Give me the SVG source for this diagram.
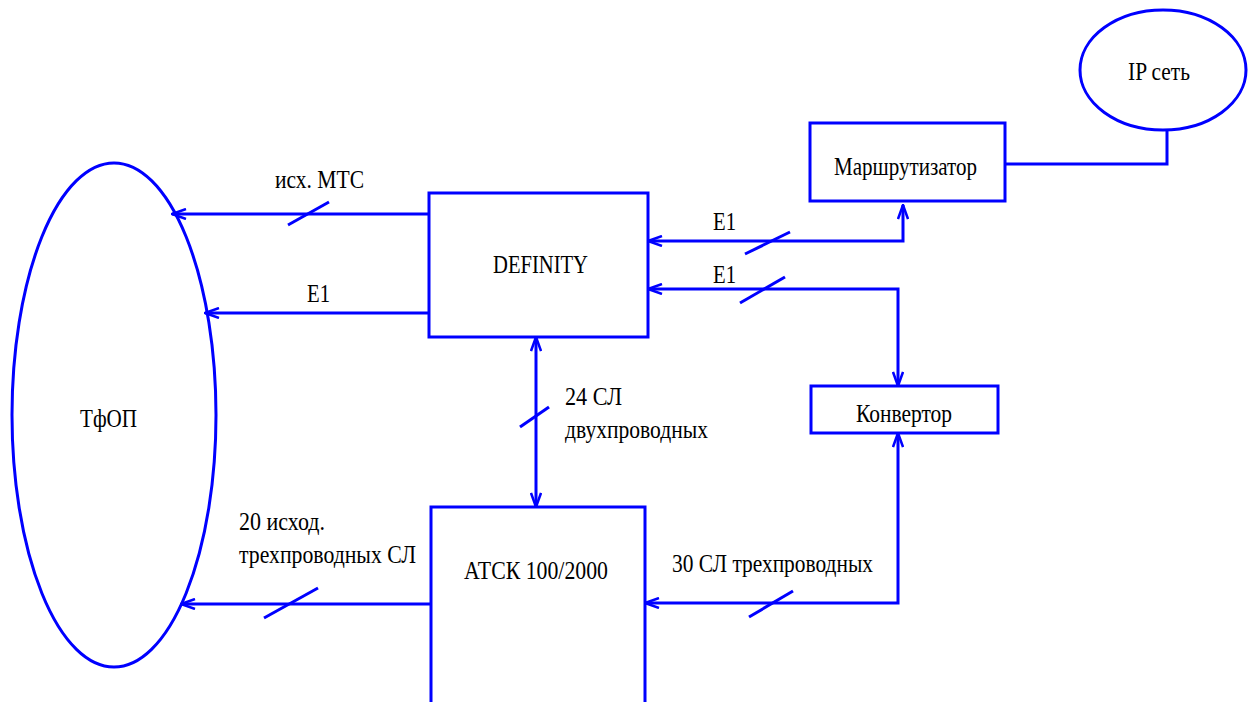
<svg xmlns="http://www.w3.org/2000/svg" width="1249" height="702" viewBox="0 0 1249 702">
<style>
.s{fill:none;stroke:#0000ff;stroke-width:3}
.t{font-family:'Liberation Serif','Times New Roman','DejaVu Serif',serif;font-size:25px;fill:#000}
</style>
<defs>
<marker id="a" viewBox="0 0 16 12" refX="15" refY="6" markerWidth="16" markerHeight="12" markerUnits="userSpaceOnUse" orient="auto-start-reverse">
<path d="M1,1 L15,6 L1,11" fill="none" stroke="#0000ff" stroke-width="2.5"/>
</marker>
</defs>
<g id="tfop"><ellipse class="s" cx="114" cy="415" rx="102" ry="252"/><text class="t" x="80" y="427" textLength="57" lengthAdjust="spacingAndGlyphs">ТфОП</text></g>
<g id="definity"><rect class="s" x="429" y="193" width="219" height="144"/><text class="t" x="493" y="273" textLength="95" lengthAdjust="spacingAndGlyphs">DEFINITY</text></g>
<g id="atsk"><path class="s" d="M431,702 V507 H645 V702"/><text class="t" x="464" y="579" textLength="144" lengthAdjust="spacingAndGlyphs">АТСК 100/2000</text></g>
<g id="router"><rect class="s" x="810" y="123" width="195" height="78"/><text class="t" x="834" y="175" textLength="143" lengthAdjust="spacingAndGlyphs">Маршрутизатор</text></g>
<g id="ip"><ellipse class="s" cx="1163" cy="70" rx="83" ry="60"/><text class="t" x="1128" y="80" textLength="62" lengthAdjust="spacingAndGlyphs">IP сеть</text></g>
<g id="conv"><rect class="s" x="811" y="386" width="187" height="47"/><text class="t" x="856" y="422" textLength="96" lengthAdjust="spacingAndGlyphs">Конвертор</text></g>
<g id="connectors">
<path class="s" d="M429,214 H172" marker-end="url(#a)"/>
<path class="s" d="M288,225 L329,202"/>
<path class="s" d="M429,313 H205" marker-end="url(#a)"/>
<path class="s" d="M903,205 V241 H648" marker-start="url(#a)" marker-end="url(#a)"/>
<path class="s" d="M745,254 L790,232"/>
<path class="s" d="M648,289 H898 V386" marker-start="url(#a)" marker-end="url(#a)"/>
<path class="s" d="M740,303 L785,277"/>
<path class="s" d="M1005,164 H1167 V130"/>
<path class="s" d="M536,337 V507" marker-start="url(#a)" marker-end="url(#a)"/>
<path class="s" d="M520,427 L549,407"/>
<path class="s" d="M431,604 H181" marker-end="url(#a)"/>
<path class="s" d="M264,618 L318,588"/>
<path class="s" d="M898,433 V603 H645" marker-start="url(#a)" marker-end="url(#a)"/>
<path class="s" d="M749,617 L793,591"/>
</g>
<g id="labels">
<text class="t" x="275" y="188" textLength="89" lengthAdjust="spacingAndGlyphs">исх. МТС</text>
<text class="t" x="307" y="302" textLength="23" lengthAdjust="spacingAndGlyphs">E1</text>
<text class="t" x="713" y="230" textLength="23" lengthAdjust="spacingAndGlyphs">E1</text>
<text class="t" x="713" y="283" textLength="23" lengthAdjust="spacingAndGlyphs">E1</text>
<text class="t" x="565" y="405" textLength="57" lengthAdjust="spacingAndGlyphs">24 СЛ</text>
<text class="t" x="565" y="438" textLength="143" lengthAdjust="spacingAndGlyphs">двухпроводных</text>
<text class="t" x="239" y="530" textLength="86" lengthAdjust="spacingAndGlyphs">20 исход.</text>
<text class="t" x="239" y="563" textLength="177" lengthAdjust="spacingAndGlyphs">трехпроводных СЛ</text>
<text class="t" x="672" y="572" textLength="201" lengthAdjust="spacingAndGlyphs">30 СЛ трехпроводных</text>
</g>
</svg>
